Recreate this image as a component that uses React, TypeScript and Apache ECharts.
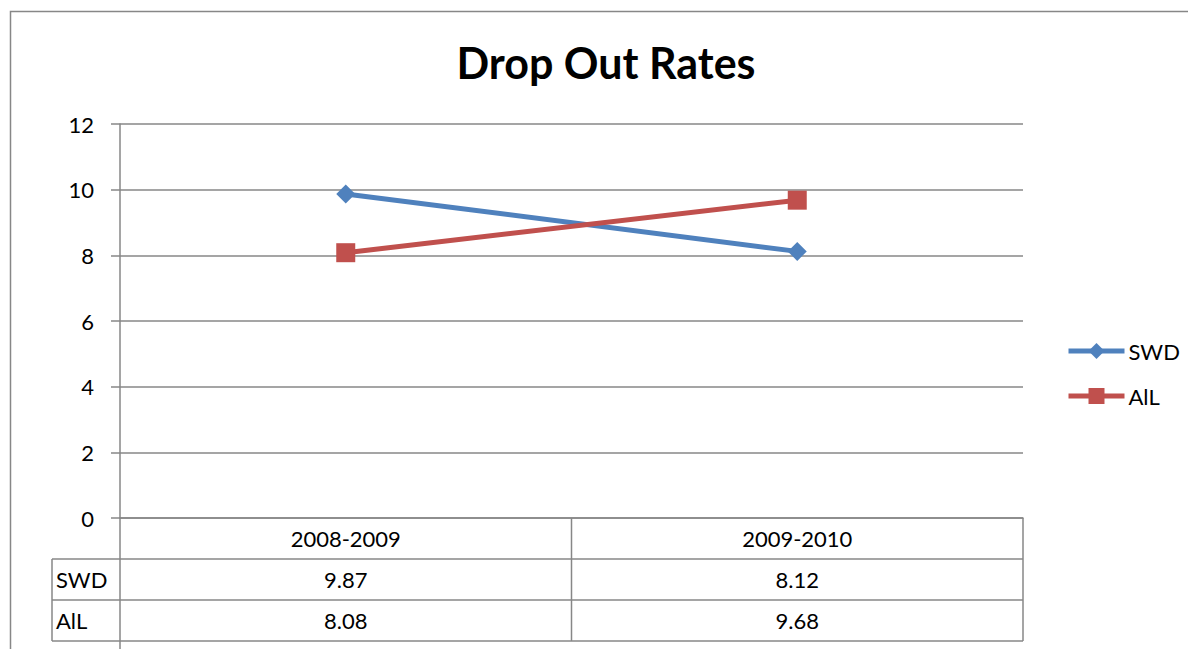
import React, { useEffect, useRef } from "react";
import * as echarts from "echarts";

const categories = ["2008-2009", "2009-2010"];
const swdValues = [9.87, 8.12];
const allValues = [8.08, 9.68];
const seriesNames = ["SWD", "AlL"];
const yTicks = { min: 0, max: 12, interval: 2 };

const FONT = "Lato, 'Open Sans', sans-serif";
const FS = 22;
const GRID = { left: 120, top: 124, right: 1023, bottom: 518 };
const ROW_H = 41;
const LABEL_LEFT = 52;
const BORDER = "#878787";

export default function App() {
  const ref = useRef<HTMLDivElement>(null);
  useEffect(() => {
    document.body.style.margin = "0";
    const chart = echarts.init(ref.current!, null, { renderer: "svg" });
    const option: any = {
      animation: false,
      backgroundColor: "#fff",
      grid: {
        left: GRID.left,
        top: GRID.top,
        width: GRID.right - GRID.left,
        height: GRID.bottom - GRID.top,
        containLabel: false,
      },
      legend: {
        orient: "vertical",
        left: 1061,
        top: 335,
        itemWidth: 56,
        itemHeight: 20,
        itemGap: 23,
        lineStyle: { width: 5 },
        textStyle: { fontFamily: FONT, fontSize: FS, color: "#000", padding: [0, 0, 0, -1] },
        data: seriesNames,
      },
      xAxis: {
        type: "category",
        data: categories,
        boundaryGap: true,
        axisLine: { show: true, lineStyle: { color: BORDER, width: 1.5 } },
        axisTick: { show: false },
        axisLabel: { show: false },
        splitLine: { show: false },
      },
      yAxis: {
        type: "value",
        min: yTicks.min,
        max: yTicks.max,
        interval: yTicks.interval,
        axisLine: { show: true, lineStyle: { color: BORDER, width: 1.5 } },
        axisTick: { show: true, length: 9, lineStyle: { color: BORDER, width: 1.5 } },
        axisLabel: { margin: 26, fontFamily: FONT, fontSize: FS, color: "#000" },
        splitLine: { show: true, lineStyle: { color: BORDER, width: 1.5 } },
      },
      series: [
        {
          name: seriesNames[0],
          type: "line",
          data: swdValues,
          symbol: "diamond",
          symbolSize: 19,
          lineStyle: { color: "#4F81BD", width: 5 },
          itemStyle: { color: "#4F81BD" },
        },
        {
          name: seriesNames[1],
          type: "line",
          data: allValues,
          symbol: "rect",
          symbolSize: 19,
          lineStyle: { color: "#C0504D", width: 5 },
          itemStyle: { color: "#C0504D" },
        },
      ],
    };
    chart.setOption(option);

    const centers = categories.map((c) => chart.convertToPixel({ xAxisIndex: 0 }, c) as number);
    const colW = (GRID.right - GRID.left) / categories.length;
    const rows = [swdValues, allValues];
    const tableBottom = GRID.bottom + ROW_H * (rows.length + 1);
    const elements: any[] = [];
    const line = (x1: number, y1: number, x2: number, y2: number) => ({
      type: "line",
      shape: { x1, y1, x2, y2 },
      style: { stroke: BORDER, lineWidth: 1.5 },
      silent: true,
    });
    elements.push({
      type: "rect",
      shape: { x: 10.5, y: 11.5, width: 1300, height: 800 },
      style: { fill: "none", stroke: BORDER, lineWidth: 1.5 },
      silent: true,
    });
    elements.push({
      type: "text",
      x: 606,
      y: 62,
      style: {
        text: "Drop Out Rates",
        font: `bold 43px ${FONT}`,
        fill: "#000",
        textAlign: "center",
        textVerticalAlign: "middle",
      },
    });
    for (let i = 0; i <= categories.length; i++) {
      const x = GRID.left + colW * i;
      elements.push(line(x, GRID.bottom, x, tableBottom));
    }
    elements.push(line(LABEL_LEFT, GRID.bottom + ROW_H, LABEL_LEFT, tableBottom));
    for (let r = 1; r <= rows.length + 1; r++) {
      const y = GRID.bottom + ROW_H * r;
      elements.push(line(LABEL_LEFT, y, GRID.right, y));
    }
    elements.push(line(GRID.left, tableBottom, GRID.left, 649));
    categories.forEach((c, i) => {
      elements.push({
        type: "text",
        x: centers[i],
        y: GRID.bottom + ROW_H / 2,
        style: { text: c, font: `${FS}px ${FONT}`, fill: "#000", textAlign: "center", textVerticalAlign: "middle" },
      });
    });
    rows.forEach((vals, r) => {
      const y = GRID.bottom + ROW_H * (r + 1) + ROW_H / 2;
      elements.push({
        type: "text",
        x: LABEL_LEFT + 4,
        y,
        style: { text: seriesNames[r], font: `${FS}px ${FONT}`, fill: "#000", textAlign: "left", textVerticalAlign: "middle" },
      });
      vals.forEach((v, i) => {
        elements.push({
          type: "text",
          x: centers[i],
          y,
          style: { text: v.toFixed(2), font: `${FS}px ${FONT}`, fill: "#000", textAlign: "center", textVerticalAlign: "middle" },
        });
      });
    });
    chart.setOption({ graphic: { elements } });
    return () => chart.dispose();
  }, []);
  return <div ref={ref} style={{ width: 1188, height: 649 }} />;
}
